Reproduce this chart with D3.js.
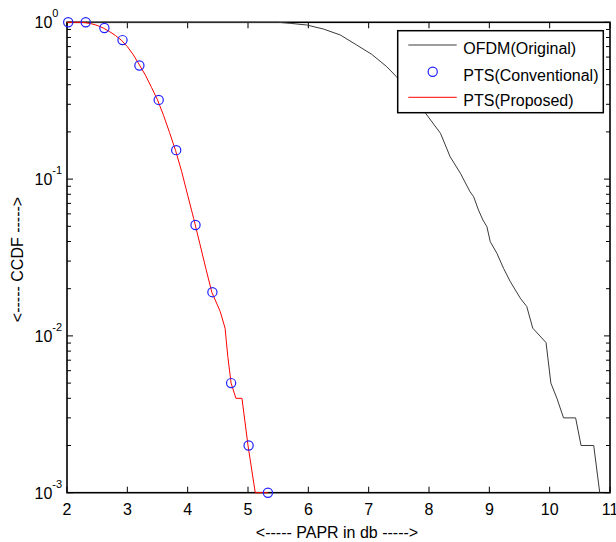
<!DOCTYPE html>
<html><head><meta charset="utf-8">
<script src="https://cdn.jsdelivr.net/npm/d3@7"></script>
<style>body{margin:0;background:#fff}svg{display:block;font-family:"Liberation Sans",Arial,sans-serif}</style>
</head><body><svg id="c" width="616" height="542"></svg>
<script>
// ---- data ----
const ofdmX = [2, 5.5, 5.7, 5.975, 6.25, 6.53, 6.8, 7.05, 7.3, 7.46, 7.7, 7.94, 8.19, 8.35, 8.52, 8.68, 8.74, 8.82, 8.894, 8.96, 9.015, 9.126, 9.235, 9.347, 9.513, 9.62, 9.72, 9.94, 10.02, 10.12, 10.23, 10.43, 10.52, 10.73, 10.83];
const ofdmY = [1, 1, 0.985, 0.961, 0.906, 0.83, 0.717, 0.625, 0.521, 0.45, 0.35, 0.264, 0.196, 0.139, 0.109, 0.0831, 0.0772, 0.0635, 0.0548, 0.0497, 0.0399, 0.0336, 0.027, 0.0222, 0.0174, 0.0154, 0.0112, 0.00906, 0.005, 0.004, 0.003, 0.003, 0.002, 0.002, 0.001];
const convX = [2.02, 2.31, 2.62, 2.92, 3.2, 3.52, 3.81, 4.13, 4.41, 4.72, 5.01, 5.33];
const convY = [1, 1, 0.92, 0.77, 0.53, 0.32, 0.153, 0.051, 0.019, 0.005, 0.002, 0.001];
const propX = [2.0, 2.1, 2.2, 2.3, 2.4, 2.5, 2.6, 2.7, 2.8, 2.9, 3.0, 3.1, 3.2, 3.3, 3.4, 3.5, 3.6, 3.7, 3.8, 3.9, 4.0, 4.1, 4.2, 4.3, 4.4, 4.54, 4.62, 4.665, 4.72, 4.8, 4.9, 5.0, 5.12, 5.33];
const propY = [1, 1, 1, 0.995, 0.98, 0.955, 0.92, 0.875, 0.825, 0.77, 0.70, 0.62, 0.535, 0.46, 0.385, 0.32, 0.255, 0.198, 0.152, 0.112, 0.079, 0.056, 0.039, 0.027, 0.019, 0.0143, 0.0112, 0.0074, 0.005, 0.004, 0.004, 0.002, 0.001, 0.001];
const xTicks = [2, 3, 4, 5, 6, 7, 8, 9, 10, 11];
const yTickExp = [0, -1, -2, -3];
const legendLabels = ["OFDM(Original)", "PTS(Conventional)", "PTS(Proposed)"];
const xLabel = "<----- PAPR in db ----->";
const yLabel = "<----- CCDF ----->";

// ---- layout ----
const L = 67, R = 610, T = 22.3, B = 492.7;
const svg = d3.select("#c");
const x = d3.scaleLinear().domain([2, 11]).range([L, R]);
const y = d3.scaleLog().domain([1e-3, 1]).range([B, T]);
const FS = 16;

// minor ticks
const minor = [];
for (let k = -3; k < 0; k++) for (let m = 2; m <= 9; m++) minor.push(m * Math.pow(10, k));
const g = svg.append("g");
minor.forEach(v => {
  g.append("line").attr("x1", L).attr("x2", L + 4).attr("y1", y(v)).attr("y2", y(v)).attr("stroke", "#000").attr("stroke-width", 1);
  g.append("line").attr("x1", R).attr("x2", R - 4).attr("y1", y(v)).attr("y2", y(v)).attr("stroke", "#000").attr("stroke-width", 1);
});
yTickExp.forEach(e => {
  const v = Math.pow(10, e);
  g.append("line").attr("x1", L).attr("x2", L + 6).attr("y1", y(v)).attr("y2", y(v)).attr("stroke", "#000").attr("stroke-width", 1);
  g.append("line").attr("x1", R).attr("x2", R - 6).attr("y1", y(v)).attr("y2", y(v)).attr("stroke", "#000").attr("stroke-width", 1);
  const t = g.append("text").attr("x", 34.5).attr("y", y(v) + 6).attr("font-size", FS).attr("fill", "#000");
  t.append("tspan").text("10");
  t.append("tspan").attr("dy", -11).attr("font-size", 11).text(String(e));
});
xTicks.forEach(v => {
  g.append("line").attr("x1", x(v)).attr("x2", x(v)).attr("y1", B).attr("y2", B - 6).attr("stroke", "#000").attr("stroke-width", 1);
  g.append("line").attr("x1", x(v)).attr("x2", x(v)).attr("y1", T).attr("y2", T + 6).attr("stroke", "#000").attr("stroke-width", 1);
  g.append("text").attr("x", x(v)).attr("y", 514.5).attr("text-anchor", "middle").attr("font-size", FS).attr("fill", "#000").text(v);
});
g.append("rect").attr("x", L).attr("y", T).attr("width", R - L).attr("height", B - T).attr("fill", "none").attr("stroke", "#000").attr("stroke-width", 1.6);

// labels
svg.append("text").attr("x", 337).attr("y", 538).attr("text-anchor", "middle").attr("font-size", FS).text(xLabel);
svg.append("text").attr("transform", `translate(22.5,${(T + B) / 2 + 2})  rotate(-90)`).attr("text-anchor", "middle").attr("font-size", FS).text(yLabel);

// series
const line = d3.line().x(d => x(d[0])).y(d => y(d[1]));
svg.append("path").datum(d3.zip(ofdmX, ofdmY)).attr("d", line).attr("fill", "none").attr("stroke", "#3a3a3a").attr("stroke-width", 1);
svg.append("path").datum(d3.zip(propX, propY)).attr("d", line).attr("fill", "none").attr("stroke", "#ff0000").attr("stroke-width", 1);
svg.append("g").selectAll("circle").data(d3.zip(convX, convY)).join("circle")
  .attr("cx", d => x(d[0])).attr("cy", d => y(d[1])).attr("r", 4.6)
  .attr("fill", "none").attr("stroke", "#2020ff").attr("stroke-width", 1.2);

// legend
const lg = svg.append("g");
lg.append("rect").attr("x", 397.7).attr("y", 30.7).attr("width", 205.6).attr("height", 82).attr("fill", "#fff").attr("stroke", "#000").attr("stroke-width", 1.5);
const rowsY = [45, 71.8, 97.3];
lg.append("line").attr("x1", 408.3).attr("x2", 456.7).attr("y1", rowsY[0]).attr("y2", rowsY[0]).attr("stroke", "#3a3a3a").attr("stroke-width", 1);
lg.append("circle").attr("cx", 432.7).attr("cy", rowsY[1]).attr("r", 4.6).attr("fill", "none").attr("stroke", "#2020ff").attr("stroke-width", 1.2);
lg.append("line").attr("x1", 408.3).attr("x2", 456.7).attr("y1", rowsY[2]).attr("y2", rowsY[2]).attr("stroke", "#ff0000").attr("stroke-width", 1);
legendLabels.forEach((s, i) => {
  lg.append("text").attr("x", 463.3).attr("y", rowsY[i] + 9).attr("font-size", FS).text(s);
});
</script></body></html>
